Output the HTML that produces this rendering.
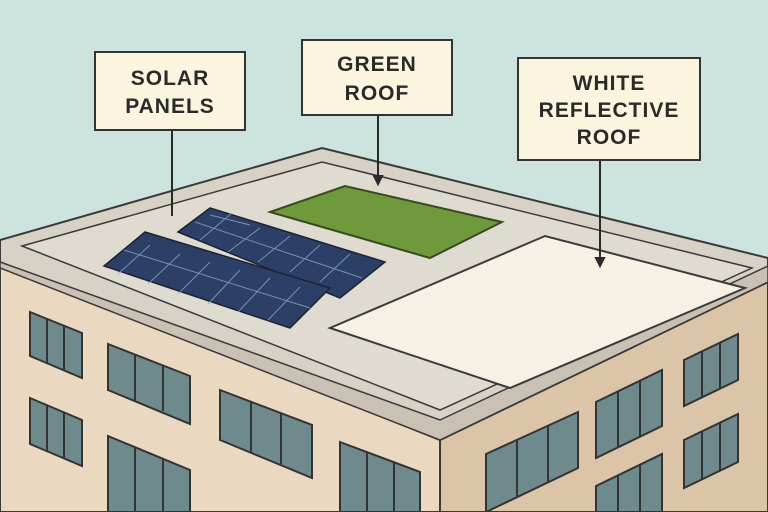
<!DOCTYPE html>
<html><head><meta charset="utf-8"><style>
html,body{margin:0;padding:0;background:#cde3de;}
svg{display:block}
text{font-family:"Liberation Sans",sans-serif;font-weight:bold;fill:#2a2a2a;letter-spacing:1px}
</style></head><body>
<svg width="768" height="512" viewBox="0 0 768 512" xmlns="http://www.w3.org/2000/svg">
<rect width="768" height="512" fill="#cde3de"/>
<polygon points="0,262 440,440 440,512 0,512" fill="#ead8c0" stroke="#3a3a3a" stroke-width="2"/>
<polygon points="440,440 768,282 768,512 440,512" fill="#dcc4a8" stroke="#3a3a3a" stroke-width="2"/>
<polygon points="0,240 322,148 768,258 768,282 440,440 0,262" fill="#d8d2c6" stroke="#3a3a3a" stroke-width="2"/>
<polygon points="0,262 440,420 768,266 768,282 440,440 0,268" fill="#c9c1b3" stroke="#3a3a3a" stroke-width="1.5"/>
<polygon points="22,246 322,162 752,268 440,410" fill="#e0dbd1" stroke="#3a3a3a" stroke-width="1.5"/>
<polygon points="270,212 345,186 502,222 430,258" fill="#6f9a3c" stroke="#3a4a20" stroke-width="2"/>
<polygon points="330,328 545,236 745,288 510,388" fill="#f6f1e4" stroke="#3a3a3a" stroke-width="2"/>
<g stroke="#1c2433" stroke-width="1.5">
<polygon points="178,232 210,208 385,262 340,298" fill="#2c3f66"/>
<polygon points="104,266 145,232 330,288 290,328" fill="#2c3f66"/>
<g stroke="#8fa3c4" stroke-width="1" opacity="0.8">
<line x1="210" y1="215" x2="250" y2="225"/><line x1="232" y1="213" x2="200" y2="240"/>
<line x1="260" y1="228" x2="228" y2="252"/><line x1="290" y1="236" x2="258" y2="262"/>
<line x1="320" y1="245" x2="290" y2="272"/><line x1="350" y1="254" x2="320" y2="282"/>
<line x1="195" y1="222" x2="362" y2="278"/>
<line x1="150" y1="245" x2="118" y2="274"/><line x1="180" y1="254" x2="148" y2="284"/>
<line x1="210" y1="262" x2="178" y2="294"/><line x1="240" y1="270" x2="208" y2="304"/>
<line x1="270" y1="278" x2="238" y2="312"/><line x1="300" y1="287" x2="268" y2="320"/>
<line x1="124" y1="250" x2="310" y2="308"/>
</g>
</g>
<g fill="#6f8a8c" stroke="#333" stroke-width="2">
<polygon points="30,312 82,333 82,378 30,356"/>
<polygon points="108,344 190,376 190,424 108,390"/>
<polygon points="220,390 312,425 312,478 220,440"/>
<polygon points="30,398 82,420 82,466 30,444"/>
<polygon points="108,436 190,470 190,512 108,512"/>
<polygon points="340,442 420,472 420,512 340,512"/>
<polygon points="486,454 578,412 578,468 486,512"/>
<polygon points="596,402 662,370 662,426 596,458"/>
<polygon points="684,360 738,334 738,380 684,406"/>
<polygon points="596,486 662,454 662,512 596,512"/>
<polygon points="684,440 738,414 738,462 684,488"/>
</g>
<g stroke="#333" stroke-width="2">
<line x1="47" y1="319" x2="47" y2="363"/><line x1="64" y1="326" x2="64" y2="370"/>
<line x1="135" y1="355" x2="135" y2="401"/><line x1="163" y1="365" x2="163" y2="411"/>
<line x1="251" y1="402" x2="251" y2="453"/><line x1="281" y1="413" x2="281" y2="464"/>
<line x1="47" y1="405" x2="47" y2="451"/><line x1="64" y1="412" x2="64" y2="458"/>
<line x1="135" y1="447" x2="135" y2="512"/><line x1="163" y1="459" x2="163" y2="512"/>
<line x1="367" y1="452" x2="367" y2="512"/><line x1="394" y1="462" x2="394" y2="512"/>
<line x1="517" y1="440" x2="517" y2="496"/><line x1="548" y1="426" x2="548" y2="482"/>
<line x1="618" y1="391" x2="618" y2="447"/><line x1="640" y1="381" x2="640" y2="437"/>
<line x1="702" y1="351" x2="702" y2="397"/><line x1="720" y1="343" x2="720" y2="389"/>
<line x1="618" y1="475" x2="618" y2="512"/><line x1="640" y1="465" x2="640" y2="512"/>
<line x1="702" y1="431" x2="702" y2="479"/><line x1="720" y1="423" x2="720" y2="471"/>
</g>
<g stroke="#2a2a2a" stroke-width="2" fill="#2a2a2a">
<line x1="172" y1="130" x2="172" y2="216"/>
<line x1="378" y1="115" x2="378" y2="180"/><polygon points="374,176 382,176 378,184"/>
<line x1="600" y1="160" x2="600" y2="262"/><polygon points="596,258 604,258 600,266"/>
</g>
<g stroke="#333" stroke-width="2" fill="#fbf4df">
<rect x="95" y="52" width="150" height="78"/>
<rect x="302" y="40" width="150" height="75"/>
<rect x="518" y="58" width="182" height="102"/>
</g>
<text x="170" y="85" font-size="21" text-anchor="middle">SOLAR</text>
<text x="170" y="113" font-size="21" text-anchor="middle">PANELS</text>
<text x="377" y="71" font-size="21" text-anchor="middle">GREEN</text>
<text x="377" y="100" font-size="21" text-anchor="middle">ROOF</text>
<text x="609" y="90" font-size="21" text-anchor="middle">WHITE</text>
<text x="609" y="117" font-size="21" text-anchor="middle">REFLECTIVE</text>
<text x="609" y="144" font-size="21" text-anchor="middle">ROOF</text>
</svg>
</body></html>
